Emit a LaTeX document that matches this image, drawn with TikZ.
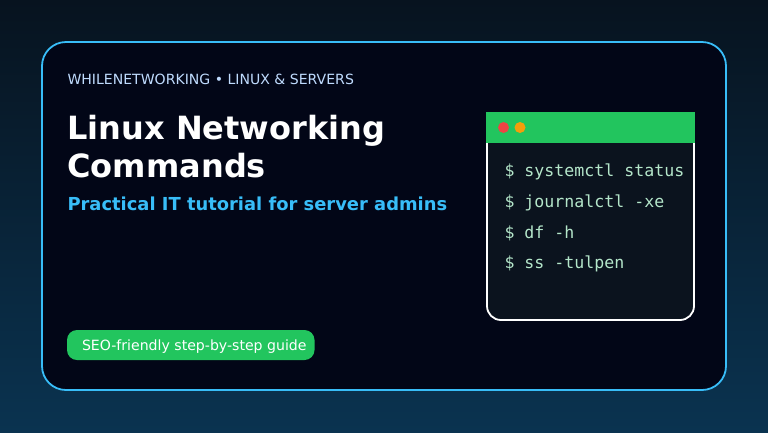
\documentclass[tikz,border=0pt]{standalone}
\usepackage{fontspec}
\setmainfont{DejaVu Sans}
\newfontfamily\monof{DejaVu Sans Mono}
\definecolor{bgtop}{HTML}{07131F}
\definecolor{bgbot}{HTML}{0A3350}
\definecolor{panel}{HTML}{020617}
\definecolor{accent}{HTML}{38BDF8}
\definecolor{kicker}{HTML}{BFDBFE}
\definecolor{grn}{HTML}{22C55E}
\definecolor{term}{HTML}{0B131E}
\definecolor{cmd}{HTML}{B4E6CA}
\definecolor{rdot}{HTML}{EF4444}
\definecolor{ydot}{HTML}{F59E0B}
\tikzset{
  txt/.style={anchor=base west,inner sep=0pt,outer sep=0pt},
  cmdline/.style={txt,text=cmd,font=\monof\fontsize{16.6}{16.6}\selectfont},
  dot/.style={circle,minimum size=11pt,inner sep=0pt,outer sep=0pt}
}
\begin{document}
\begin{tikzpicture}[x=1pt,y=-1pt]
\useasboundingbox (0,0) rectangle (768,432);
\shade[top color=bgtop,bottom color=bgbot] (0,0) rectangle (768,432);
\draw[fill=panel,draw=accent,line width=1.8pt,rounded corners=24pt] (42,42) rectangle (726,390);
\node[txt,text=kicker,font=\fontsize{14.06}{14}\selectfont] (kick) at (67.5,84) {WHILENETWORKING • LINUX \& SERVERS};
\node[txt,text=white,font=\bfseries\fontsize{32}{32}\selectfont] (t1) at (67.5,139) {Linux Networking};
\node[txt,text=white,font=\bfseries\fontsize{32}{32}\selectfont] (t2) at (67.5,177) {Commands};
\node[txt,text=accent,font=\bfseries\fontsize{17.9}{18}\selectfont] (sub) at (67.5,210) {Practical IT tutorial for server admins};
\fill[grn,rounded corners=10pt] (67,330) rectangle (314.5,360);
\node[txt,text=white,font=\fontsize{14.1}{14}\selectfont] (pill) at (82,350) {SEO-friendly step-by-step guide};
\draw[fill=term,draw=white,line width=1.8pt,rounded corners=14pt] (487,130) -- (487,320) -- (694,320) -- (694,130);
\fill[grn] (486,112) rectangle (695,143);
\node[dot,fill=rdot] (d1) at (503.5,127.5) {};
\node[dot,fill=ydot] (d2) at (520,127.5) {};
\node[cmdline] (c1) at (504.5,176) {\$ systemctl status};
\node[cmdline] (c2) at (504.5,207) {\$ journalctl -xe};
\node[cmdline] (c3) at (504.5,238) {\$ df -h};
\node[cmdline] (c4) at (504.5,268) {\$ ss -tulpen};
\end{tikzpicture}
\end{document}
